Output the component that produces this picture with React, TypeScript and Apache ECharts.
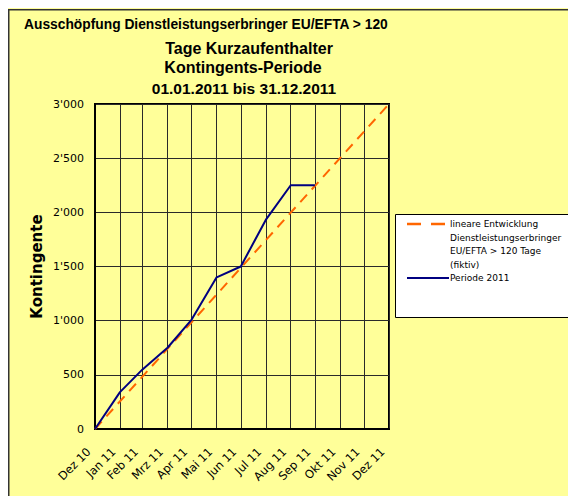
import React, { useEffect, useRef } from "react";
import * as echarts from "echarts";

// Month-end dates used by the date axis (Dez 10 ... Dez 11)
const monthEnds = [
  "2010-12-31", "2011-01-31", "2011-02-28", "2011-03-31", "2011-04-30",
  "2011-05-31", "2011-06-30", "2011-07-31", "2011-08-31", "2011-09-30",
  "2011-10-31", "2011-11-30", "2011-12-31",
];
const monthLabels = [
  "Dez 10", "Jan 11", "Feb 11", "Mrz 11", "Apr 11", "Mai 11", "Jun 11",
  "Jul 11", "Aug 11", "Sep 11", "Okt 11", "Nov 11", "Dez 11",
];
// Periode 2011 (cumulative), Dez 10 .. Sep 11
const periode2011 = [0, 340, 550, 750, 1010, 1400, 1500, 1930, 2250, 2250];
// lineare Entwicklung (fiktiv): start and end values
const linearStartEnd = [0, 3000];

const yMin = 0;
const yMax = 3000;
const yStep = 500;

const titleLines = [
  "Ausschöpfung Dienstleistungserbringer EU/EFTA > 120",
  "Tage Kurzaufenthalter",
  "Kontingents-Periode",
  "01.01.2011 bis 31.12.2011",
];
const seriesNames = [
  "lineare Entwicklung\nDienstleistungserbringer\nEU/EFTA > 120 Tage\n(fiktiv)",
  "Periode 2011",
];

const FONT = "Arial, 'Liberation Sans', sans-serif";
const WIDE = "'DejaVu Sans', Verdana, sans-serif";
const BG = "#FFFF99";

// day offset of each date from the first date (date axis as a numeric scale)
const dayOffset = (d: string) => {
  const [y, m, dd] = d.split("-").map(Number);
  const [y0, m0, d0] = monthEnds[0].split("-").map(Number);
  return Math.round((Date.UTC(y, m - 1, dd) - Date.UTC(y0, m0 - 1, d0)) / 86400000);
};

const fmtThousands = (v: number) =>
  String(v).replace(/\B(?=(\d{3})+(?!\d))/g, "'");

export default function App() {
  const ref = useRef<HTMLDivElement>(null);

  useEffect(() => {
    if (!ref.current) return;
    const chart = echarts.init(ref.current, undefined, { renderer: "svg" });
    const days = monthEnds.map(dayOffset);

    const blueData = periode2011.map((v, i) => [days[i], v]);
    const orangeData = [
      [days[0], linearStartEnd[0]],
      [days[days.length - 1], linearStartEnd[1]],
    ];

    const legendX = 387;
    const legendY = 206;
    const lineH = 13.5;

    const titleText = (text: string, x: number, y: number, size: number, align: string) => ({
      type: "text",
      x,
      y,
      style: {
        text,
        font: `bold ${size}px ${FONT}`,
        fill: "#000",
        textAlign: align,
        textVerticalAlign: "middle",
      },
    });

    chart.setOption({
      animation: false,
      backgroundColor: BG,
      textStyle: { fontFamily: FONT },
      grid: {
        left: 87,
        top: 96,
        width: 294,
        height: 325,
        show: true,
        backgroundColor: BG,
        borderColor: "#000",
        borderWidth: 2,
        containLabel: false,
      },
      xAxis: {
        type: "value",
        min: days[0],
        max: days[days.length - 1],
        axisLine: { show: true, lineStyle: { color: "#000", width: 2 } },
        axisTick: { show: false, customValues: days },
        splitLine: { show: true, lineStyle: { color: "#2a2a2a", width: 1 } },
        axisLabel: {
          customValues: days,
          rotate: 45,
          margin: 14.5,
          padding: [0, 9, 0, 0],
          fontSize: 11.5,
          color: "#000",
          fontFamily: WIDE,
          hideOverlap: false,
          formatter: (v: number) => {
            const i = days.indexOf(Math.round(v));
            return i >= 0 ? monthLabels[i] : "";
          },
        },
      },
      yAxis: {
        type: "value",
        min: yMin,
        max: yMax,
        interval: yStep,
        name: "Kontingente",
        nameLocation: "middle",
        nameGap: 51,
        nameRotate: 90,
        nameTextStyle: {
          fontSize: 15,
          fontWeight: "bold",
          color: "#000",
          fontFamily: WIDE,
        },
        axisLine: { show: true, lineStyle: { color: "#000", width: 2 } },
        axisTick: { show: false },
        splitLine: { show: true, lineStyle: { color: "#2a2a2a", width: 1 } },
        axisLabel: {
          fontSize: 11,
          color: "#000",
          margin: 11,
          fontFamily: WIDE,
          formatter: (v: number) => fmtThousands(v),
        },
      },
      series: [
        {
          name: seriesNames[0],
          type: "line",
          data: orangeData,
          showSymbol: false,
          symbol: "none",
          lineStyle: { color: "#FF6600", width: 2, type: [10, 7] },
          z: 2,
        },
        {
          name: seriesNames[1],
          type: "line",
          data: blueData,
          showSymbol: false,
          symbol: "none",
          lineStyle: { color: "#000080", width: 2 },
          z: 3,
        },
      ],
      graphic: [
        {
          type: "rect",
          silent: true,
          shape: { x: 0.75, y: 1.75, width: 700, height: 700 },
          style: { fill: "none", stroke: "#333", lineWidth: 1.5 },
          z: 10,
        },
        titleText(titleLines[0], 16, 16, 13.8, "left"),
        titleText(titleLines[1], 241, 40, 16, "center"),
        titleText(titleLines[2], 235, 59, 16, "center"),
        titleText(titleLines[3], 236, 80, 15.5, "center"),
        {
          type: "rect",
          shape: { x: legendX + 0.5, y: legendY + 0.5, width: 300, height: 103 },
          style: { fill: "#fff", stroke: "#000", lineWidth: 1 },
          z: 5,
        },
        {
          type: "line",
          shape: { x1: legendX + 12, y1: legendY + 10, x2: legendX + 50, y2: legendY + 10 },
          style: { stroke: "#FF6600", lineWidth: 2.5, lineDash: [14, 10] },
          z: 6,
        },
        {
          type: "text",
          x: legendX + 55,
          y: legendY + 3.5,
          style: {
            text: seriesNames[0],
            font: `9px ${WIDE}`,
            fill: "#000",
            lineHeight: lineH,
            textAlign: "left",
            textVerticalAlign: "top",
          },
          z: 6,
        },
        {
          type: "line",
          shape: {
            x1: legendX + 12,
            y1: legendY + 10 + lineH * 4,
            x2: legendX + 54,
            y2: legendY + 10 + lineH * 4,
          },
          style: { stroke: "#000080", lineWidth: 2 },
          z: 6,
        },
        {
          type: "text",
          x: legendX + 55,
          y: legendY + 3.5 + lineH * 4,
          style: {
            text: seriesNames[1],
            font: `9px ${WIDE}`,
            fill: "#000",
            lineHeight: lineH,
            textAlign: "left",
            textVerticalAlign: "top",
          },
          z: 6,
        },
      ],
    });

    return () => chart.dispose();
  }, []);

  return (
    <div style={{ width: 568, height: 488, overflow: "hidden" }}>
      <div ref={ref} style={{ width: 600, height: 520 }} />
    </div>
  );
}
